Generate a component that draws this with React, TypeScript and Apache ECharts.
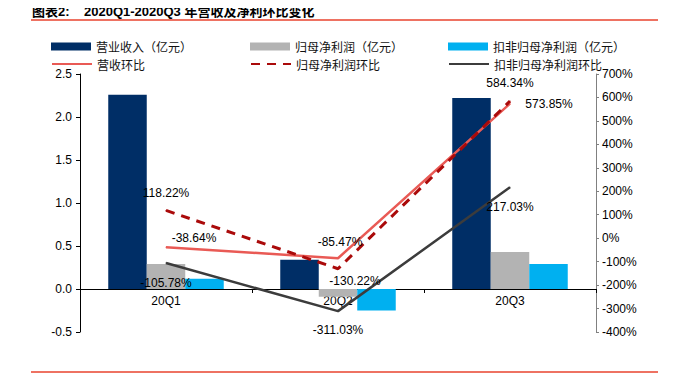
import React, { useEffect, useRef } from "react";
import * as echarts from "echarts";

const categories = ["20Q1", "20Q2", "20Q3"];
const revenue = [2.26, 0.34, 2.22];
const netProfit = [0.29, -0.09, 0.43];
const netProfitExcl = [0.12, -0.25, 0.29];
const revenueQoQ = [-38.64, -85.47, 573.85];
const netProfitQoQ = [118.22, -130.22, 584.34];
const netProfitExclQoQ = [-105.78, -311.03, 217.03];

const names = {
  rev: "营业收入（亿元）",
  net: "归母净利润（亿元）",
  kf: "扣非归母净利润（亿元）",
  revQ: "营收环比",
  netQ: "归母净利润环比",
  kfQ: "扣非归母净利润环比",
};

const LATIN = "'Liberation Sans', Arial, sans-serif";
const CJK = "'Noto Sans CJK SC', sans-serif";
const TITLE_FONT = "'Liberation Sans', 'Noto Sans CJK SC', sans-serif";

// label offsets (style only)
const revQOffsets = [[28, -9], [2, -16], [39, 0]];
const netQOffsets = [[0, -17], [17, 12], [0, -18]];
const kfQOffsets = [[0, 20], [0, 19], [0, 20]];

// legend layout: [name key, left, top, isLine]
const legendLayout: [keyof typeof names, number, number, boolean][] = [
  ["rev", 51, 40.5, false],
  ["net", 250, 40.5, false],
  ["kf", 448, 40.5, false],
  ["revQ", 51, 58, true],
  ["netQ", 250, 58, true],
  ["kfQ", 448, 58, true],
];

function lineData(values: number[], offsets: number[][]) {
  return values.map((v, i) => ({
    value: v,
    label: { offset: offsets[i] },
  }));
}

const lineLabel = {
  show: true,
  position: "inside",
  formatter: (p: any) => `${Number(p.value).toFixed(2)}%`,
  color: "#000",
  fontSize: 12,
  fontFamily: LATIN,
};

export default function App() {
  const ref = useRef<HTMLDivElement>(null);
  useEffect(() => {
    if (!ref.current) return;
    const chart = echarts.init(ref.current, undefined, { renderer: "svg" });
    const legends = legendLayout.map(([key, left, top, isLine]) => ({
      orient: "horizontal",
      left,
      top,
      padding: 0,
      itemWidth: 40,
      itemHeight: 8,
      textStyle: { fontFamily: CJK, fontSize: 12, color: "#111" },
      data: [
        isLine
          ? { name: names[key], itemStyle: { opacity: 0 } }
          : { name: names[key], icon: "rect" },
      ],
    }));
    chart.setOption({
      animation: false,
      backgroundColor: "#fff",
      graphic: [
        {
          type: "text",
          x: 32,
          y: 11,
          style: {
            text: "图表2:",
            font: `bold 13px ${TITLE_FONT}`,
            fill: "#000",
            verticalAlign: "middle",
          },
        },
        {
          type: "text",
          x: 84,
          y: 11,
          style: {
            text: "2020Q1-2020Q3 年营收及净利环比变化",
            font: `bold 13px ${TITLE_FONT}`,
            fill: "#000",
            verticalAlign: "middle",
          },
        },
        {
          type: "line",
          shape: { x1: 31, y1: 20, x2: 658, y2: 20 },
          style: { stroke: "#E8432E", lineWidth: 1.5 },
        },
        {
          type: "line",
          shape: { x1: 31, y1: 372, x2: 658, y2: 372 },
          style: { stroke: "#E8432E", lineWidth: 1.5 },
        },
      ],
      legend: legends,
      grid: { left: 80, right: 79, top: 74, bottom: 49 },
      xAxis: {
        type: "category",
        data: categories,
        offset: -43,
        axisLine: { onZero: false, lineStyle: { color: "#000", width: 1 } },
        axisTick: { show: true, length: 4, lineStyle: { color: "#000" } },
        axisLabel: { color: "#000", fontSize: 12, fontFamily: LATIN, margin: 6 },
        splitLine: { show: false },
      },
      yAxis: [
        {
          type: "value",
          min: -0.5,
          max: 2.5,
          interval: 0.5,
          axisLine: { show: true, onZero: false, lineStyle: { color: "#000" } },
          axisTick: { show: true, length: 4, lineStyle: { color: "#000" } },
          axisLabel: {
            color: "#000",
            fontSize: 12,
            fontFamily: LATIN,
            margin: 8,
            formatter: (v: number) => v.toFixed(1),
          },
          splitLine: { show: false },
        },
        {
          type: "value",
          min: -400,
          max: 700,
          interval: 100,
          position: "right",
          axisLine: { show: true, onZero: false, lineStyle: { color: "#808080" } },
          axisTick: { show: true, length: 3, lineStyle: { color: "#808080" } },
          axisLabel: {
            color: "#000",
            fontSize: 12,
            fontFamily: LATIN,
            margin: 6,
            formatter: (v: number) => `${v}%`,
          },
          splitLine: { show: false },
        },
      ],
      series: [
        {
          name: names.rev,
          type: "bar",
          data: revenue,
          yAxisIndex: 0,
          barWidth: 38.5,
          barGap: "0%",
          itemStyle: { color: "#002E66" },
        },
        {
          name: names.net,
          type: "bar",
          data: netProfit,
          yAxisIndex: 0,
          barWidth: 38.5,
          barGap: "0%",
          itemStyle: { color: "#B3B3B3" },
        },
        {
          name: names.kf,
          type: "bar",
          data: netProfitExcl,
          yAxisIndex: 0,
          barWidth: 38.5,
          barGap: "0%",
          itemStyle: { color: "#00B0F0" },
        },
        {
          name: names.revQ,
          type: "line",
          yAxisIndex: 1,
          data: lineData(revenueQoQ, revQOffsets),
          symbol: "circle",
          symbolSize: 1,
          itemStyle: { color: "#E95A55" },
          lineStyle: { color: "#E95A55", width: 2.5 },
          label: lineLabel,
        },
        {
          name: names.netQ,
          type: "line",
          yAxisIndex: 1,
          data: lineData(netProfitQoQ, netQOffsets),
          symbol: "circle",
          symbolSize: 1,
          itemStyle: { color: "#AA0A0A" },
          lineStyle: { color: "#AA0A0A", width: 3, type: [9, 7] },
          label: lineLabel,
        },
        {
          name: names.kfQ,
          type: "line",
          yAxisIndex: 1,
          data: lineData(netProfitExclQoQ, kfQOffsets),
          symbol: "circle",
          symbolSize: 1,
          itemStyle: { color: "#3C3C3C" },
          lineStyle: { color: "#3C3C3C", width: 2.5 },
          label: lineLabel,
        },
      ],
    });
    return () => chart.dispose();
  }, []);
  return <div ref={ref} style={{ width: 675, height: 381, margin: -8 }} />;
}
